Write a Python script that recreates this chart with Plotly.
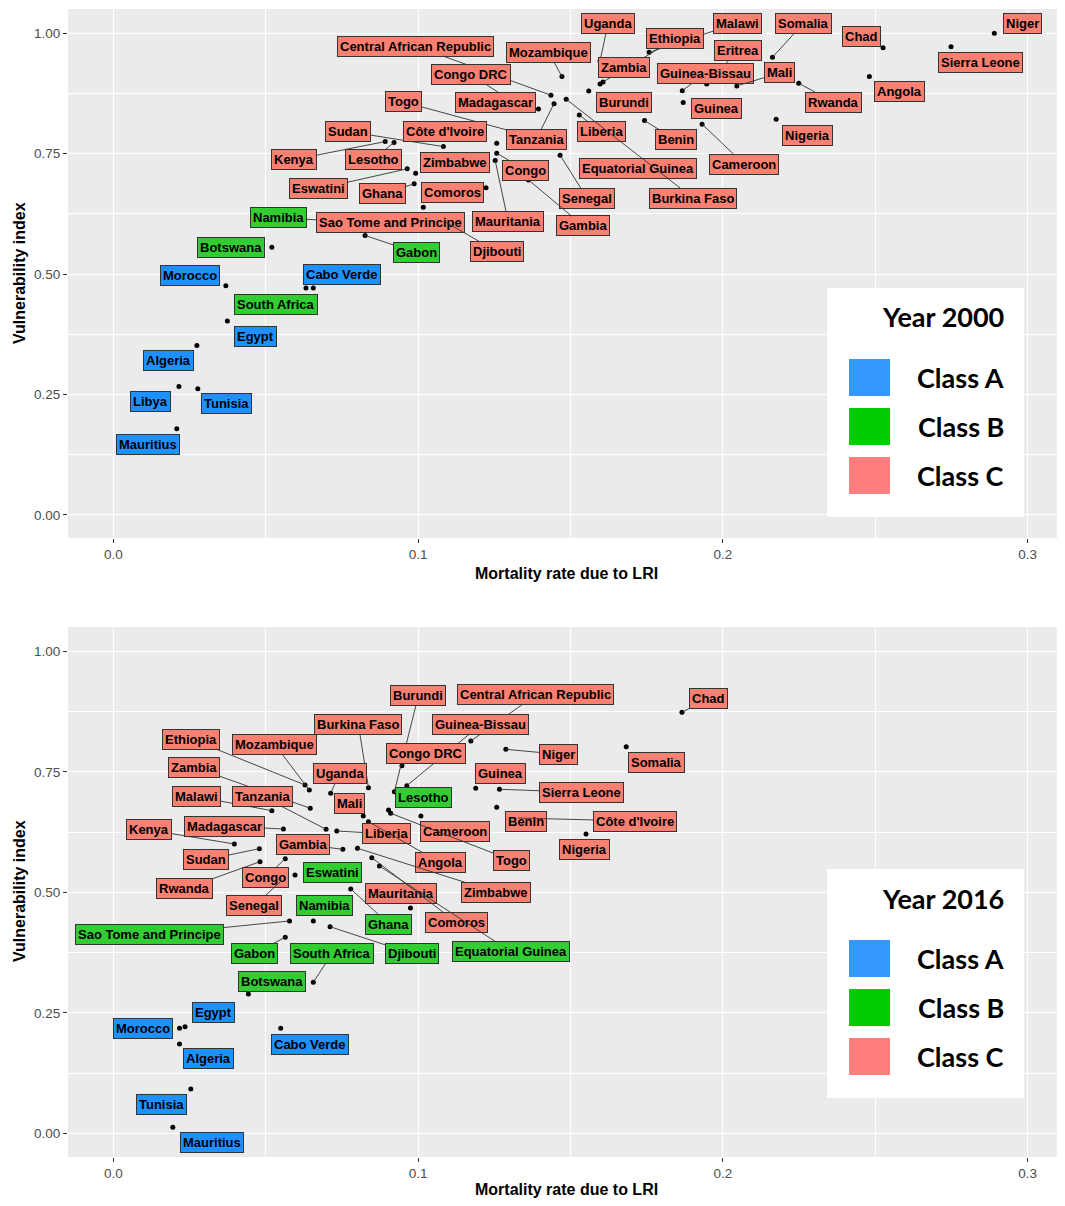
import plotly.graph_objects as go

# ---------------- DATA (Year 2000) ----------------
countries_2000 = ["Uganda", "Malawi", "Somalia", "Chad", "Niger", "Ethiopia", "Eritrea",
                  "Central African Republic", "Mozambique", "Zambia", "Guinea-Bissau", "Mali",
                  "Sierra Leone", "Congo DRC", "Togo", "Madagascar", "Burundi", "Angola", "Rwanda",
                  "Guinea", "Sudan", "Côte d'Ivoire", "Tanzania", "Liberia", "Benin", "Nigeria",
                  "Kenya", "Lesotho", "Zimbabwe", "Congo", "Equatorial Guinea", "Cameroon",
                  "Eswatini", "Ghana", "Comoros", "Senegal", "Burkina Faso", "Namibia",
                  "Sao Tome and Principe", "Mauritania", "Gambia", "Botswana", "Gabon", "Djibouti",
                  "Morocco", "Cabo Verde", "South Africa", "Egypt", "Algeria", "Libya", "Tunisia",
                  "Mauritius"]
class_2000 = ["C", "C", "C", "C", "C", "C", "C", "C", "C", "C", "C", "C", "C", "C", "C", "C",
              "C", "C", "C", "C", "C", "C", "C", "C", "C", "C", "C", "C", "C", "C", "C", "C",
              "C", "C", "C", "C", "C", "B", "C", "C", "C", "B", "B", "C",
              "A", "A", "B", "A", "A", "A", "A", "A"]
mortality_2000 = [0.1597, 0.1758, 0.2163, 0.2526, 0.2891, 0.1607, 0.1947, 0.1436, 0.1472, 0.1597,
                  0.1867, 0.2046, 0.2749, 0.1318, 0.1351, 0.1395, 0.1560, 0.2481, 0.2249, 0.1870,
                  0.1083, 0.1258, 0.1446, 0.1529, 0.1743, 0.2175, 0.0892, 0.0921, 0.0992, 0.1258,
                  0.1630, 0.1932, 0.0964, 0.0987, 0.1223, 0.1466, 0.1486, 0.0728, 0.1017, 0.1253,
                  0.1362, 0.0520, 0.0826, 0.1089, 0.0369, 0.0632, 0.0656, 0.0374, 0.0274, 0.0215,
                  0.0277, 0.0208]
vulnerability_2000 = [0.9425, 0.9606, 0.9502, 0.9701, 1.0000, 0.8990, 0.8948, 0.8714, 0.9100, 0.8948,
                      0.8809, 0.8907, 0.9722, 0.8554, 0.7890, 0.8429, 0.8803, 0.9100, 0.8963, 0.8560,
                      0.7647, 0.7714, 0.8539, 0.8305, 0.8187, 0.8216, 0.7751, 0.7734, 0.7095, 0.7510,
                      0.7268, 0.8112, 0.7185, 0.6873, 0.6790, 0.7469, 0.8631, 0.6106, 0.6390, 0.7357,
                      0.6956, 0.5556, 0.5801, 0.6085, 0.4757, 0.4710, 0.4710, 0.4025, 0.3519, 0.2668,
                      0.2620, 0.1790]

# ---------------- DATA (Year 2016) ----------------
countries_2016 = ["Burundi", "Central African Republic", "Chad", "Burkina Faso", "Guinea-Bissau",
                  "Ethiopia", "Mozambique", "Congo DRC", "Niger", "Somalia", "Zambia", "Uganda",
                  "Guinea", "Lesotho", "Sierra Leone", "Malawi", "Tanzania", "Mali", "Benin",
                  "Côte d'Ivoire", "Kenya", "Madagascar", "Liberia", "Cameroon", "Nigeria", "Sudan",
                  "Gambia", "Angola", "Togo", "Rwanda", "Congo", "Eswatini", "Mauritania",
                  "Zimbabwe", "Senegal", "Namibia", "Sao Tome and Principe", "Ghana", "Comoros",
                  "Gabon", "South Africa", "Djibouti", "Equatorial Guinea", "Botswana", "Egypt",
                  "Morocco", "Cabo Verde", "Algeria", "Tunisia", "Mauritius"]
class_2016 = ["C", "C", "C", "C", "C", "C", "C", "C", "C", "C", "C", "C", "C", "B", "C", "C",
              "C", "C", "C", "C", "C", "C", "C", "C", "C", "C", "C", "C", "C", "C", "C", "B",
              "C", "C", "C", "B", "B", "B", "C", "B", "B", "B", "B", "B", "A", "A", "A", "A",
              "A", "A"]
mortality_2016 = [0.0922, 0.1173, 0.1866, 0.0837, 0.0963, 0.0629, 0.0643, 0.0947, 0.1288, 0.1683,
                  0.0646, 0.0713, 0.1189, 0.0903, 0.1267, 0.0520, 0.0698, 0.0820, 0.1258, 0.1328,
                  0.0397, 0.0558, 0.0733, 0.1009, 0.1551, 0.0479, 0.0753, 0.0837, 0.0910, 0.0481,
                  0.0564, 0.0596, 0.0975, 0.0801, 0.0547, 0.0656, 0.0578, 0.0779, 0.0848, 0.0564,
                  0.0656, 0.0711, 0.0873, 0.0443, 0.0235, 0.0217, 0.0549, 0.0217, 0.0254, 0.0195]
vulnerability_2016 = [0.7087, 0.8139, 0.8734, 0.7170, 0.7212, 0.7226, 0.7122, 0.7627, 0.7967, 0.8021,
                      0.6743, 0.7054, 0.7158, 0.6707, 0.7137, 0.6693, 0.6307, 0.6583, 0.6763, 0.6541,
                      0.6002, 0.6313, 0.6272, 0.6583, 0.6210, 0.5905, 0.5892, 0.6465, 0.6639, 0.5635,
                      0.5697, 0.5359, 0.4674, 0.5913, 0.5214, 0.4405, 0.4405, 0.5068, 0.5718, 0.4066,
                      0.3133, 0.4286, 0.5546, 0.2890, 0.2212, 0.2178, 0.2178, 0.1853, 0.0919, 0.0124]

x_ticks = [0.0, 0.1, 0.2, 0.3]
y_ticks = [0.0, 0.25, 0.5, 0.75, 1.0]
class_names = ["Class A", "Class B", "Class C"]
panel_titles = ["Year 2000", "Year 2016"]
x_title = "Mortality rate due to LRI"
y_title = "Vulnerability index"

# ---------------- LAYOUT (label offsets in pixels, styles) ----------------
offsets_2000 = {
    "Uganda": (8, -37), "Malawi": (88, -29), "Somalia": (31, -34), "Chad": (-22, -11),
    "Niger": (28, -10), "Ethiopia": (72, -43), "Eritrea": (31, -33),
    "Central African Republic": (-135, -49), "Mozambique": (-13, -24), "Zambia": (24, -16),
    "Guinea-Bissau": (23, -17), "Mali": (43, -13), "Sierra Leone": (29, 16),
    "Congo DRC": (-44, -28), "Togo": (-122, -33), "Madagascar": (-43, -6), "Burundi": (35, 12),
    "Angola": (30, 15), "Rwanda": (35, 19), "Guinea": (33, 6), "Sudan": (-95, -15),
    "Côte d'Ivoire": (-52, -12), "Tanzania": (-18, 36), "Liberia": (22, 17), "Benin": (31, 19),
    "Nigeria": (31, 16), "Kenya": (-91, 18), "Lesotho": (-21, 17), "Zimbabwe": (39, -11),
    "Congo": (29, 17), "Equatorial Guinea": (28, 4), "Cameroon": (42, 40), "Eswatini": (-89, 20),
    "Ghana": (-32, 10), "Comoros": (-34, 5), "Senegal": (27, 43), "Burkina Faso": (127, 99),
    "Namibia": (-57, -3), "Sao Tome and Principe": (-33, 15), "Mauritania": (13, 61),
    "Gambia": (55, 46), "Botswana": (-41, 0), "Gabon": (51, 17), "Djibouti": (52, 30),
    "Morocco": (-36, -10), "Cabo Verde": (36, -14), "South Africa": (-37, 16), "Egypt": (28, 15),
    "Algeria": (-28, 15), "Libya": (-28, 15), "Tunisia": (29, 15), "Mauritius": (-29, 16),
}
offsets_2016 = {
    "Burundi": (24, -96), "Central African Republic": (65, -46), "Chad": (27, -14),
    "Burkina Faso": (-10, -63), "Guinea-Bissau": (74, -61), "Ethiopia": (-114, -46),
    "Mozambique": (-35, -46), "Congo DRC": (24, -12), "Niger": (53, 5), "Somalia": (30, 16),
    "Zambia": (-116, -41), "Uganda": (9, -20), "Guinea": (25, -15), "Lesotho": (35, -13),
    "Sierra Leone": (82, 3), "Malawi": (-75, -14), "Tanzania": (-64, -33), "Mali": (-14, -12),
    "Benin": (29, 14), "Côte d'Ivoire": (117, 3), "Kenya": (-85, -14), "Madagascar": (-59, -3),
    "Liberia": (50, 3), "Cameroon": (34, 16), "Nigeria": (-2, 16), "Sudan": (-53, 11),
    "Gambia": (-40, -5), "Angola": (72, 41), "Togo": (121, 47), "Rwanda": (-75, 27),
    "Congo": (-20, 19), "Eswatini": (37, -2), "Mauritania": (-9, -15), "Zimbabwe": (139, 44),
    "Senegal": (-26, 24), "Namibia": (11, -15), "Sao Tome and Principe": (-140, 14),
    "Ghana": (38, 35), "Comoros": (85, 65), "Gabon": (-31, 16), "South Africa": (19, -29),
    "Djibouti": (82, 27), "Equatorial Guinea": (132, 86), "Botswana": (24, -12),
    "Egypt": (28, -14), "Morocco": (-37, 0), "Cabo Verde": (29, 16), "Algeria": (29, 15),
    "Tunisia": (-29, 16), "Mauritius": (39, 15),
}

# The page body has an 8px margin, so the figure is laid out in page pixels minus 8.
OFF = 8
W, H = 1065 - OFF, 1206 - 2 * OFF
label_fill = {"A": "#1E90FF", "B": "#32CD32", "C": "#FA8072"}
legend_fill = ["#3399FF", "#00CC00", "#FF7F7F"]
x_range = [-0.0149, 0.3123]


def px(xp):
    return (xp - OFF) / W


def py(yp):
    return 1 - (yp - OFF) / H


xdom = [px(68), 1.0]
ydom_top = [py(538), min(1.0, py(9))]
ydom_bot = [py(1157), py(627)]

fig = go.Figure()

panels = [
    (countries_2000, class_2000, mortality_2000, vulnerability_2000, offsets_2000, "x", "y"),
    (countries_2016, class_2016, mortality_2016, vulnerability_2016, offsets_2016, "x2", "y2"),
]

annotations = []
for names, cls, xs, ys, offs, xr, yr in panels:
    fig.add_trace(go.Scatter(x=xs, y=ys, mode="markers", xaxis=xr, yaxis=yr,
                             marker=dict(color="black", size=5), showlegend=False,
                             hoverinfo="text", text=names))
    for name, c, xv, yv in zip(names, cls, xs, ys):
        ax, ay = offs[name]
        w = 7.6 * len(name) + 10
        h = 20
        dx = max(0.0, abs(ax) - w / 2)
        dy = max(0.0, abs(ay) - h / 2)
        near = (dx * dx + dy * dy) ** 0.5 < 7
        annotations.append(dict(
            x=xv, y=yv, xref=xr, yref=yr, ax=ax, ay=ay,
            text="<b>" + name + "</b>", showarrow=True, arrowhead=0,
            arrowwidth=0.9, arrowcolor="rgba(0,0,0,0)" if near else "#333333",
            standoff=0, startstandoff=0,
            font=dict(family="Liberation Sans, Arial", size=13, color="black"),
            bgcolor=label_fill[c], bordercolor="#333333", borderwidth=1, borderpad=2,
        ))

axis_common = dict(
    showgrid=True, gridcolor="white", gridwidth=1.2, zeroline=False,
    ticks="outside", ticklen=4, tickwidth=1, tickcolor="#333333",
    tickfont=dict(family="Liberation Sans, Arial", size=13.5, color="#4D4D4D"),
    showline=False,
)

fig.update_layout(
    xaxis=dict(domain=xdom, range=x_range, anchor="y", tickvals=x_ticks, tickformat=".1f",
               minor=dict(dtick=0.05, tick0=0, showgrid=True, gridcolor="white", gridwidth=0.5),
               **axis_common),
    yaxis=dict(domain=ydom_top, range=[-0.048, 1.0504], anchor="x", tickvals=y_ticks,
               tickformat=".2f",
               minor=dict(dtick=0.125, tick0=0, showgrid=True, gridcolor="white", gridwidth=0.5),
               **axis_common),
    xaxis2=dict(domain=xdom, range=x_range, anchor="y2", tickvals=x_ticks, tickformat=".1f",
                minor=dict(dtick=0.05, tick0=0, showgrid=True, gridcolor="white", gridwidth=0.5),
                **axis_common),
    yaxis2=dict(domain=ydom_bot, range=[-0.0492, 1.0504], anchor="x2", tickvals=y_ticks,
                tickformat=".2f",
                minor=dict(dtick=0.125, tick0=0, showgrid=True, gridcolor="white", gridwidth=0.5),
                **axis_common),
    plot_bgcolor="#EBEBEB", paper_bgcolor="white",
    width=W, height=H, autosize=False,
    margin=dict(l=0, r=0, t=0, b=0),
)

shapes = []
for i, title in enumerate(panel_titles):
    off = 581 * i
    shapes.append(dict(type="rect", xref="paper", yref="paper", x0=px(827), x1=px(1024),
                       y0=py(517 + off), y1=py(288 + off), fillcolor="white",
                       line=dict(width=0), layer="above"))
    annotations.append(dict(xref="paper", yref="paper", x=px(1006), y=py(317 + off),
                            xanchor="right", yanchor="middle", showarrow=False,
                            text="<b>" + title + "</b>",
                            font=dict(family="Lato, Open Sans", size=27, color="black")))
    for j, (cn, col) in enumerate(zip(class_names, legend_fill)):
        top = 359 + 49 * j + off
        shapes.append(dict(type="rect", xref="paper", yref="paper", x0=px(849), x1=px(890),
                           y0=py(top + 37), y1=py(top), fillcolor=col, line=dict(width=0),
                           layer="above"))
        annotations.append(dict(xref="paper", yref="paper", x=px(1006), y=py(top + 18.5),
                                xanchor="right", yanchor="middle", showarrow=False,
                                text="<b>" + cn + "</b>",
                                font=dict(family="Lato, Open Sans", size=27, color="black")))
    annotations.append(dict(xref="paper", yref="paper", x=px(566.5), y=py(573 + 616 * i),
                            xanchor="center", yanchor="middle", showarrow=False,
                            text="<b>" + x_title + "</b>",
                            font=dict(family="Liberation Sans, Arial", size=16, color="black")))
    annotations.append(dict(xref="paper", yref="paper", x=px(19), y=py(273 + 618 * i),
                            xanchor="center", yanchor="middle", showarrow=False, textangle=-90,
                            text="<b>" + y_title + "</b>",
                            font=dict(family="Liberation Sans, Arial", size=16, color="black")))

fig.update_layout(shapes=shapes, annotations=annotations)
fig.write_html("out.html")
